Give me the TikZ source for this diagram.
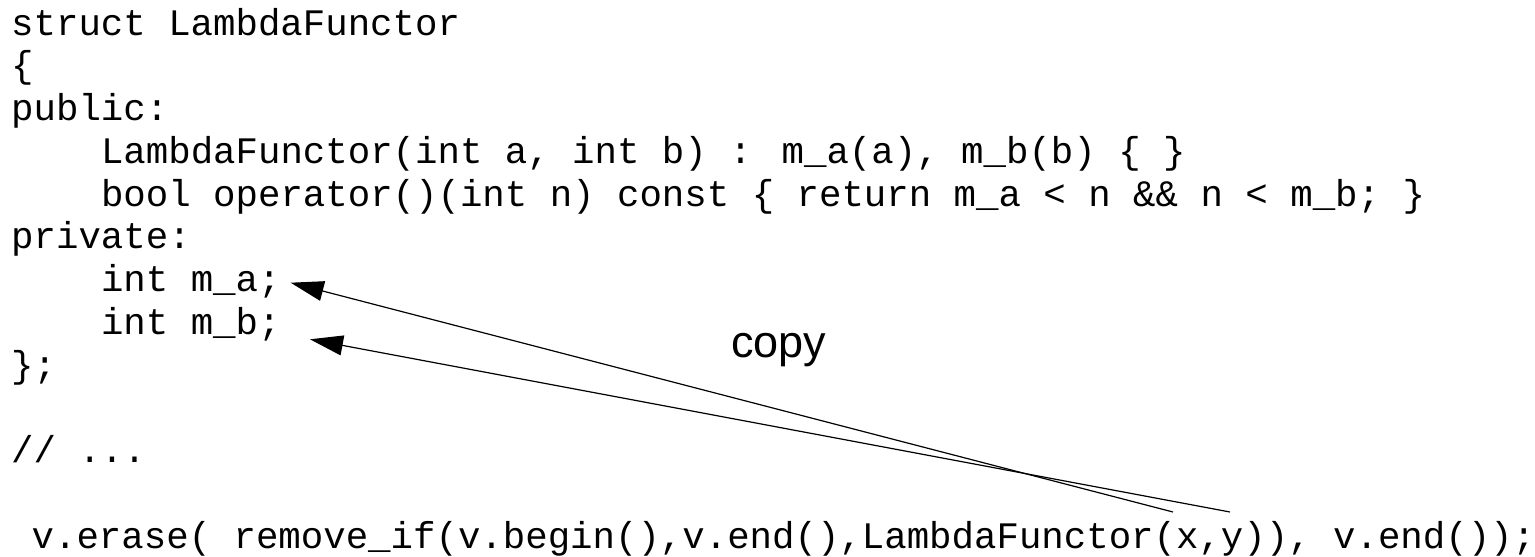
\documentclass[tikz,border=0pt]{standalone}
\usepackage{fontspec}
\newfontfamily\codefont{Liberation Mono}
\newfontfamily\labelfont{Liberation Sans}
\usetikzlibrary{arrows.meta}
\begin{document}
\begin{tikzpicture}[x=1pt,y=1pt,
  code/.style={anchor=base west, inner sep=0pt, font=\codefont\fontsize{37.4}{42.75}\selectfont},
  lbl/.style={anchor=base west, inner sep=0pt, font=\labelfont\fontsize{45}{54}\selectfont},
  ptr/.style={line width=1.2pt, -{Triangle[length=33pt,width=20pt]}}]
\useasboundingbox (0,0) rectangle (1535,-557);
\node[code] (l1) at (11,-35) {struct LambdaFunctor};
\node[code] (l2) at (11,-77.75) {\{};
\node[code] (l3) at (11,-120.5) {public:};
\node[code] (l4) at (100.8,-163.25) {LambdaFunctor(int a, int b) : m\_a(a), m\_b(b) \{ \}};
\node[code] (l5) at (100.8,-206) {bool operator()(int n) const \{ return m\_a < n \&\& n < m\_b; \}};
\node[code] (l6) at (11,-248.75) {private:};
\node[code] (l7) at (100.8,-291.5) {int m\_a;};
\node[code] (l8) at (100.8,-334.25) {int m\_b;};
\node[code] (l9) at (11,-377) {\};};
\node[code] (l11) at (11,-462.5) {// ...};
\node[code] (l13) at (31.45,-548) {v.erase( remove\_if(v.begin(),v.end(),LambdaFunctor(x,y)), v.end());};
\node[lbl] (copy) at (731,-357) {copy};
\coordinate (sa) at (1173,-512);
\coordinate (ta) at (290.7,-282.7);
\coordinate (sb) at (1230,-512);
\coordinate (tb) at (310,-339.3);
\draw[ptr] (sa) -- (ta);
\draw[ptr] (sb) -- (tb);
\end{tikzpicture}
\end{document}
